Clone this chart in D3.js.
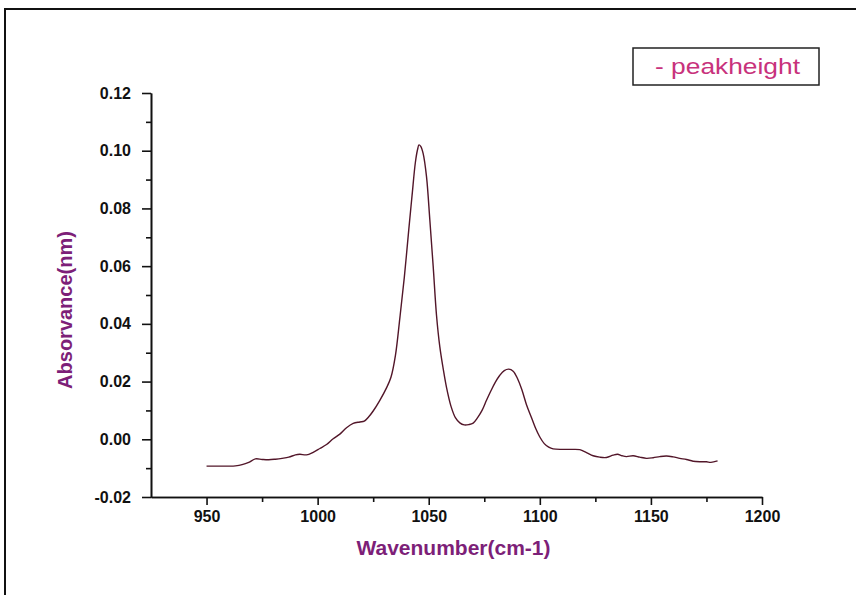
<!DOCTYPE html>
<html>
<head>
<meta charset="utf-8">
<script src="https://cdn.jsdelivr.net/npm/d3@7"></script>
<style>
  html, body { margin: 0; padding: 0; background: #fff; }
  .chart { width: 856px; height: 595px; }
</style>
</head>
<body>
<div class="chart"></div>
<script>
// spectrum
const wavenumber = [
  950, 955, 960, 963, 966, 969, 972, 975, 978, 981, 984, 987, 990, 992, 995, 998,
  1001, 1004, 1007, 1010, 1013, 1016, 1019, 1021, 1023, 1025, 1028, 1031, 1033, 1035,
  1037, 1039, 1041, 1042.5, 1044, 1045, 1045.6, 1046.4, 1047.5, 1049, 1050.5, 1052,
  1053.5, 1055, 1056.5, 1058, 1060, 1062, 1064, 1066, 1068, 1070, 1072, 1074, 1076,
  1078, 1080, 1082, 1084, 1086, 1088, 1090, 1092, 1094, 1096, 1098, 1100, 1102, 1104,
  1106, 1110, 1114, 1118, 1121, 1124, 1127, 1130, 1133, 1135, 1137, 1139, 1142, 1145,
  1148, 1151, 1154, 1157, 1160, 1163, 1166, 1169, 1172, 1175, 1177, 1180
];
const absorbance = [
  -0.0093, -0.0093, -0.0093, -0.0092, -0.0088, -0.0080, -0.0068, -0.0070, -0.0071, -0.0069,
  -0.0066, -0.0062, -0.0054, -0.0052, -0.0054, -0.0045, -0.0032, -0.0018, 0.0002, 0.0018,
  0.0040, 0.0055, 0.0060, 0.0063, 0.0078, 0.0098, 0.0135, 0.0178, 0.0215, 0.0290,
  0.0420, 0.0560, 0.0725, 0.0845, 0.0960, 0.1005, 0.1020, 0.1015, 0.0990, 0.0910,
  0.0760, 0.0600, 0.0430, 0.0320, 0.0245, 0.0180, 0.0115, 0.0075, 0.0057, 0.0050,
  0.0051, 0.0056, 0.0075, 0.0100, 0.0135, 0.0168, 0.0198, 0.0222, 0.0238, 0.0243,
  0.0236, 0.0210, 0.0170, 0.0120, 0.0080, 0.0040, 0.0008, -0.0015, -0.0027, -0.0033,
  -0.0035, -0.0035, -0.0036, -0.0046, -0.0057, -0.0062, -0.0063, -0.0055, -0.0052, -0.0057,
  -0.0060, -0.0057, -0.0062, -0.0066, -0.0064, -0.0060, -0.0058, -0.0061, -0.0066, -0.0070,
  -0.0076, -0.0078, -0.0078, -0.0080, -0.0075
];
const xTicks = [950, 1000, 1050, 1100, 1150, 1200];
const xMinorTicks = [975, 1025, 1075, 1125, 1175];
const yTicks = [-0.02, 0.00, 0.02, 0.04, 0.06, 0.08, 0.10, 0.12];
const yTickLabels = ["-0.02", "0.00", "0.02", "0.04", "0.06", "0.08", "0.10", "0.12"];
const yMinorTicks = [-0.01, 0.01, 0.03, 0.05, 0.07, 0.09, 0.11];
const seriesName = "- peakheight";

let canvas = {
  svg: {},
  x: null,
  y: null,
  config: {
    svgW: 856,
    svgH: 595,
    left: 151,
    right: 762,
    top: 93,
    bottom: 497,
    lineColor: "#521629",
    titleColor: "#7d1f78",
    legendColor: "#c8327c"
  },
  init: function () {
    this.svg = d3.select('.chart').append('svg')
      .attr('width', this.config.svgW)
      .attr('height', this.config.svgH)
      .style('font-family', '"Liberation Sans", Arial, sans-serif');
    this.x = d3.scaleLinear().domain([925, 1200]).range([this.config.left, this.config.right]);
    this.y = d3.scaleLinear().domain([-0.02, 0.12]).range([this.config.bottom, this.config.top]);
    this.frame();
    this.axes();
    this.rendor();
  },
  frame: function () {
    // 外框 (只有上方和左方)
    this.svg.append('path')
      .attr('d', 'M5,595 L5,9 L856,9')
      .attr('fill', 'none')
      .attr('stroke', '#111')
      .attr('stroke-width', 2);
  },
  axes: function () {
    let c = this.config;
    let yLabel = d3.scaleOrdinal().domain(yTicks).range(yTickLabels);

    this.svg.append('g')
      .attr('transform', `translate(0,${c.bottom})`)
      .call(d3.axisBottom(this.x).tickValues(xTicks).tickSize(8).tickSizeOuter(0).tickPadding(6)
        .tickFormat(d3.format('d')));
    this.svg.append('g')
      .attr('transform', `translate(0,${c.bottom})`)
      .call(d3.axisBottom(this.x).tickValues(xMinorTicks).tickSize(5).tickSizeOuter(0).tickFormat(''));

    this.svg.append('g')
      .attr('transform', `translate(${c.left},0)`)
      .call(d3.axisLeft(this.y).tickValues(yTicks).tickSize(9).tickSizeOuter(0).tickPadding(11)
        .tickFormat(function (d) { return yLabel(d); }));
    this.svg.append('g')
      .attr('transform', `translate(${c.left},0)`)
      .call(d3.axisLeft(this.y).tickValues(yMinorTicks).tickSize(5).tickSizeOuter(0).tickFormat(''));

    this.svg.selectAll('.domain, .tick line')
      .attr('stroke', '#111')
      .attr('stroke-width', 1.6);
    this.svg.selectAll('.tick text')
      .attr('font-family', '"Liberation Sans", Arial, sans-serif')
      .attr('font-size', 16)
      .attr('font-weight', 'bold')
      .attr('fill', '#111');

    // 軸標題
    this.svg.append('text')
      .attr('x', (c.left + c.right) / 2 - 3)
      .attr('y', 555)
      .attr('text-anchor', 'middle')
      .attr('font-size', 21)
      .attr('font-weight', 'bold')
      .attr('fill', c.titleColor)
      .text('Wavenumber(cm-1)');
    this.svg.append('text')
      .attr('transform', 'translate(72,310) rotate(-90)')
      .attr('text-anchor', 'middle')
      .attr('font-size', 20)
      .attr('font-weight', 'bold')
      .attr('fill', c.titleColor)
      .text('Absorvance(nm)');
  },
  rendor: function () {
    let x = this.x, y = this.y;
    let points = wavenumber.map(function (w, i) { return [w, absorbance[i]]; });
    let line = d3.line()
      .x(function (d) { return x(d[0]); })
      .y(function (d) { return y(d[1]); })
      .curve(d3.curveCatmullRom);

    this.svg.append('path')
      .datum(points)
      .attr('fill', 'none')
      .attr('stroke', this.config.lineColor)
      .attr('stroke-width', 1.4)
      .attr('d', line);

    // legend
    let legend = this.svg.append('g').attr('class', 'legend');
    legend.append('rect')
      .attr('x', 633).attr('y', 48)
      .attr('width', 186).attr('height', 37)
      .attr('fill', '#fff')
      .attr('stroke', '#222')
      .attr('stroke-width', 1.5);
    legend.append('text')
      .attr('x', 655).attr('y', 74)
      .attr('font-size', 22)
      .attr('textLength', 145)
      .attr('lengthAdjust', 'spacingAndGlyphs')
      .attr('fill', this.config.legendColor)
      .text(seriesName);
  }
};

canvas.init();
</script>
</body>
</html>
